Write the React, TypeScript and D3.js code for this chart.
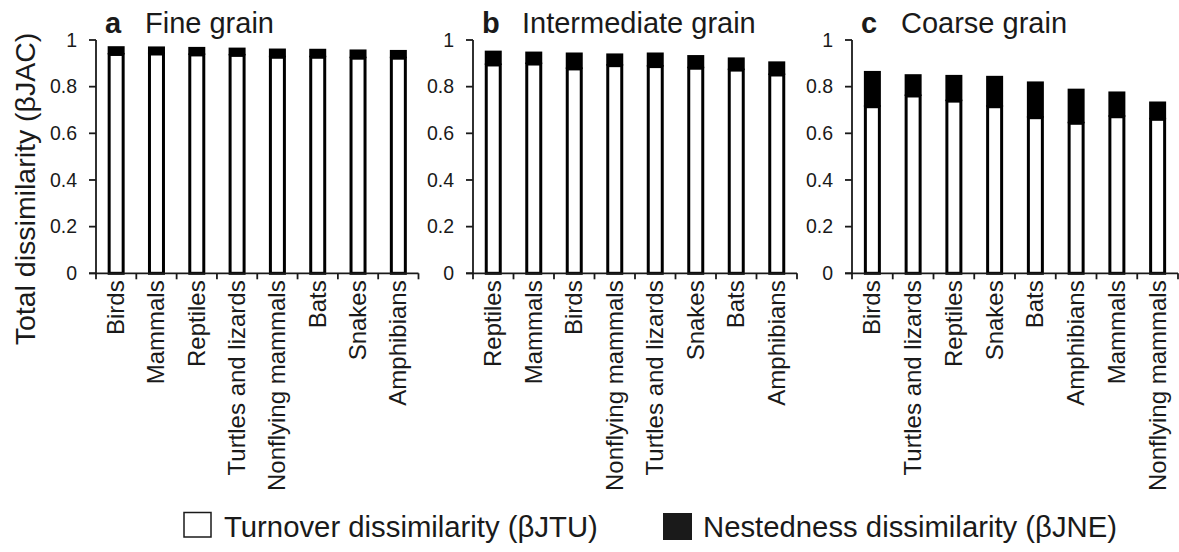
import React from "react";
import * as d3 from "d3";

const catsA = ["Birds", "Mammals", "Reptiles", "Turtles and lizards", "Nonflying mammals", "Bats", "Snakes", "Amphibians"];
const totalA = [0.967, 0.966, 0.964, 0.961, 0.957, 0.956, 0.953, 0.951];
const turnA = [0.938, 0.940, 0.936, 0.934, 0.926, 0.926, 0.922, 0.922];

const catsB = ["Reptiles", "Mammals", "Birds", "Nonflying mammals", "Turtles and lizards", "Snakes", "Bats", "Amphibians"];
const totalB = [0.948, 0.944, 0.940, 0.936, 0.940, 0.929, 0.919, 0.902];
const turnB = [0.893, 0.897, 0.876, 0.890, 0.886, 0.879, 0.871, 0.850];

const catsC = ["Birds", "Turtles and lizards", "Reptiles", "Snakes", "Bats", "Amphibians", "Mammals", "Nonflying mammals"];
const totalC = [0.861, 0.847, 0.844, 0.840, 0.816, 0.785, 0.773, 0.730];
const turnC = [0.714, 0.760, 0.738, 0.714, 0.667, 0.643, 0.671, 0.660];

const panelLetters = ["a", "b", "c"];
const panelTitles = ["Fine grain", "Intermediate grain", "Coarse grain"];
const yTicks = [0, 0.2, 0.4, 0.6, 0.8, 1];
const legendLabels = ["Turnover dissimilarity (\u03B2JTU)", "Nestedness dissimilarity (\u03B2JNE)"];
const yTitle = "Total dissimilarity (\u03B2JAC)";

const W = 1179;
const H = 552;
const panelX = [[96, 418.5], [473, 797], [852, 1178]];
const yTop = 40;
const yBottom = 273.3;
const INK = "#1a1a1a";
const FONT = "Liberation Sans, Arial, Helvetica, sans-serif";

const panels = [
  { cats: catsA, total: totalA, turn: turnA },
  { cats: catsB, total: totalB, turn: turnB },
  { cats: catsC, total: totalC, turn: turnC },
];

export default function App() {
  const y = d3.scaleLinear().domain([0, 1]).range([yBottom, yTop]);
  const fmt = (v: number) => (v === 0 ? "0" : v === 1 ? "1" : d3.format(".1f")(v));
  return (
    <svg width={W} height={H} style={{ position: "absolute", left: 0, top: 0, background: "#fff" }} fontFamily={FONT}>
      <rect x={0} y={0} width={W} height={H} fill="#fff" />
      <text
        transform={`translate(35,${189}) rotate(-90)`}
        textAnchor="middle"
        fontSize={28.5}
        fill={INK}
      >
        {yTitle}
      </text>
      {panels.map((p, pi) => {
        const [x0, x1] = panelX[pi];
        const x = d3.scaleBand().domain(p.cats).range([x0, x1]).paddingInner(0).paddingOuter(0);
        const step = x.step();
        const bw = 14;
        const bounds = d3.range(p.cats.length + 1).map((i) => x0 + i * step);
        return (
          <g key={pi}>
            <text x={x0 + 9} y={33} fontSize={29} fontWeight="bold" fill={INK}>
              {panelLetters[pi]}
            </text>
            <text x={x0 + 49} y={33} fontSize={29} fill={INK}>
              {panelTitles[pi]}
            </text>
            {p.cats.map((c, i) => {
              const cx = (x(c) as number) + step / 2;
              return (
                <g key={c}>
                  <rect
                    x={cx - bw / 2}
                    y={y(p.turn[i])}
                    width={bw}
                    height={y(0) - y(p.turn[i])}
                    fill="#fff"
                    stroke="#000"
                    strokeWidth={3}
                  />
                  <rect
                    x={cx - bw / 2 - 1.5}
                    y={y(p.total[i]) - 1.5}
                    width={bw + 3}
                    height={y(p.turn[i]) - y(p.total[i]) + 1.5}
                    fill="#000"
                  />
                </g>
              );
            })}
            <line x1={x0} x2={x0} y1={y(0)} y2={y(1)} stroke={INK} strokeWidth={1.8} />
            {yTicks.map((t) => (
              <g key={t}>
                <line x1={x0 - 7} x2={x0} y1={y(t)} y2={y(t)} stroke={INK} strokeWidth={1.8} />
                <text x={x0 - 19} y={y(t)} dy="0.35em" textAnchor="end" fontSize={19.5} fill={INK}>
                  {fmt(t)}
                </text>
              </g>
            ))}
            <line x1={x0 - 7} x2={x1} y1={y(0)} y2={y(0)} stroke={INK} strokeWidth={1.8} />
            {bounds.map((b, i) => (
              <line key={i} x1={b} x2={b} y1={y(0)} y2={y(0) + 6} stroke={INK} strokeWidth={1.8} />
            ))}
            {p.cats.map((c) => {
              const cx = (x(c) as number) + step / 2;
              return (
                <text
                  key={c}
                  transform={`translate(${cx + 8},${y(0) + 7}) rotate(-90)`}
                  textAnchor="end"
                  fontSize={24}
                  fill={INK}
                >
                  {c}
                </text>
              );
            })}
          </g>
        );
      })}
      <rect x={184} y={512.5} width={27} height={24.5} fill="#fff" stroke={INK} strokeWidth={1.5} />
      <text x={224} y={537} fontSize={29.3} fill={INK}>
        {legendLabels[0]}
      </text>
      <rect x={663} y={513} width={29} height={27} fill={INK} />
      <text x={703} y={537} fontSize={29.3} fill={INK}>
        {legendLabels[1]}
      </text>
    </svg>
  );
}
